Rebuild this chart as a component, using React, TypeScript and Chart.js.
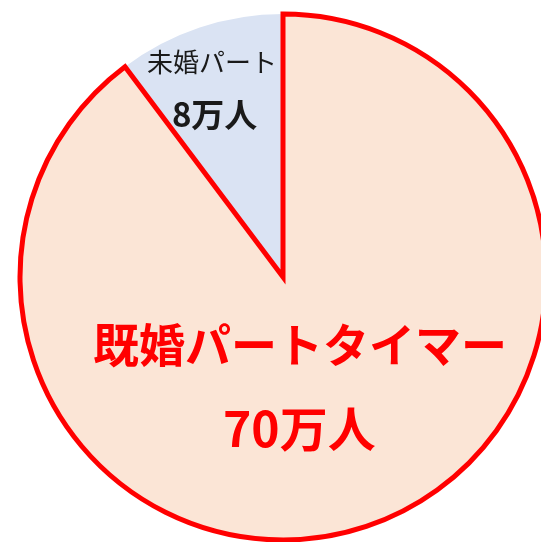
import React, { useEffect, useRef } from "react";
import { Chart, registerables } from "chart.js";

Chart.register(...registerables);

// Data (drawn order: small slice first so the big slice border stays on top)
const categories = ["未婚パート", "既婚パートタイマー"];
const values = [8, 70];
const unit = "万人";
const fillColors = ["#DAE3F3", "#FBE5D6"];
const borderColors = ["#FF0000", "#FF0000"];
const borderWidths = [0, 5];

const labelPlugin = {
  id: "sliceLabels",
  afterDatasetsDraw(chart: any) {
    const meta = chart.getDatasetMeta(0);
    const arc = meta.data[0];
    if (!arc) return;
    const cx = arc.x;
    const cy = arc.y;
    const R = arc.outerRadius;
    const ctx = chart.ctx;
    ctx.save();
    ctx.textAlign = "center";
    ctx.textBaseline = "middle";
    // small slice
    ctx.fillStyle = "#1A1A1A";
    ctx.font = '400 26px "Noto Sans CJK JP"';
    ctx.fillText(categories[0], cx - 0.27 * R, cy - 0.818 * R);
    ctx.font = '700 33px "Noto Sans CJK JP"';
    ctx.fillText(`${values[0]}${unit}`, cx - 0.26 * R, cy - 0.618 * R);
    // big slice
    ctx.fillStyle = "#FF0000";
    ctx.font = '700 46px "Noto Sans CJK JP"';
    ctx.fillText(categories[1], cx + 0.065 * R, cy + 0.258 * R);
    ctx.font = '700 48px "Noto Sans CJK JP"';
    ctx.fillText(`${values[1]}${unit}`, cx + 0.062 * R, cy + 0.578 * R);
    ctx.restore();
  },
};

export default function App() {
  const ref = useRef<HTMLCanvasElement | null>(null);
  useEffect(() => {
    if (!ref.current) return;
    const total = values.reduce((a, b) => a + b, 0);
    const chart = new Chart(ref.current, {
      type: "pie",
      data: {
        labels: categories,
        datasets: [
          {
            data: values,
            backgroundColor: fillColors,
            borderColor: borderColors,
            borderWidth: borderWidths,
            borderJoinStyle: "miter",
            radius: 263,
            clip: false,
          } as any,
        ],
      },
      options: {
        responsive: false,
        animation: false,
        events: [],
        rotation: (-360 * values[0]) / total,
        layout: { padding: { left: 25, top: 12, right: 0, bottom: 0 } },
        plugins: {
          legend: { display: false },
          tooltip: { enabled: false },
        },
      },
      plugins: [labelPlugin],
    });
    return () => chart.destroy();
  }, []);
  return (
    <div style={{ position: "absolute", left: 0, top: 0, width: 541, height: 542, background: "#fff" }}>
      <canvas ref={ref} width={541} height={542} style={{ display: "block" }} />
    </div>
  );
}
